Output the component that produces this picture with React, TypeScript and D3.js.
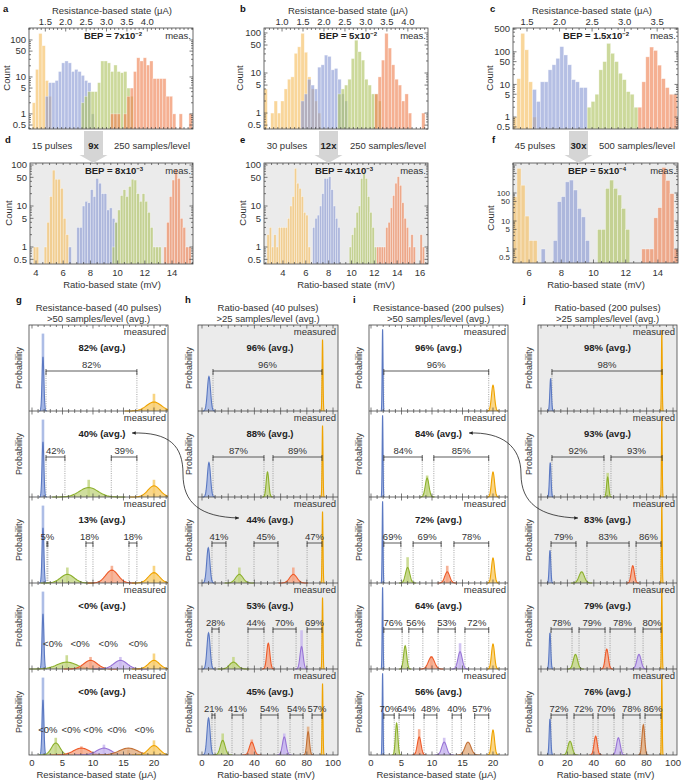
import React from 'react';
import * as d3 from 'd3';

const W = 685;
const H = 782;
const FONT = "'Liberation Sans', Arial, Helvetica, sans-serif";
const INK = '#333';

// ===== Histogram data (counts per bin): yellow, blue, green, orange =====
const aStarts = [1, 5, 16, 25];
const aYellow = [2, 16, 150, 70, 8, 3];
const aBlue = [3, 7, 7, 8, 14, 24, 27, 24, 14, 16, 14, 11, 8, 7, 1];
const aGreen = [2, 3, 4, 4, 4, 7, 27, 27, 24, 14, 21, 14, 13, 14, 5, 3];
const aOrange = [1, 1, 1, 0, 1, 3, 5, 14, 33, 27, 33, 21, 27, 9, 9, 9, 9, 3, 3, 1, 0, 1, 0, 0, 1];

const bStarts = [0, 11, 22, 33];
const bYellow = [4, 0, 1, 2, 1, 2, 4, 7, 8, 31, 45, 98, 33, 8, 4, 2, 1];
const bBlue = [2, 3, 7, 5, 4, 14, 16, 28, 26, 12, 13, 7, 3, 2];
const bGreen = [3, 4, 5, 7, 23, 66, 34, 21, 7, 5, 3, 3, 2];
const bOrange = [3, 8, 21, 98, 42, 16, 7, 5, 2, 3, 1, 0, 0, 0, 1];

const cStarts = [0, 5, 19, 32];
const cYellow = [1, 15, 368, 115, 12, 1];
const cBlue = [7, 3, 12, 12, 28, 40, 63, 144, 80, 40, 14, 12, 8, 8];
const cGreen = [2, 3, 5, 28, 50, 181, 90, 50, 22, 14, 6, 5, 2];
const cOrange = [2, 12, 70, 140, 110, 39, 15, 8, 5, 5, 1];

const dStarts = [1, 14, 30, 49];
const dYellow = [1, 1, 0, 0, 1, 4, 17, 75, 45, 45, 27, 5, 2];
const dBlue = [1, 0, 0, 3, 3, 10, 13, 12, 25, 17, 47, 36, 20, 20, 8, 9, 5, 4];
const dGreen = [1, 4, 8, 18, 25, 17, 30, 45, 43, 20, 13, 20, 13, 7, 3, 1, 1, 1];
const dOrange = [1, 4, 17, 43, 80, 47, 5, 3, 1, 1];

const eStarts = [1, 21, 37, 49];
const eYellow = [2, 3, 1, 2, 1, 3, 3, 3, 3, 5, 10, 17, 83, 36, 27, 17, 7, 6, 1];
const eBlue = [3, 5, 6, 10, 20, 47, 47, 52, 25, 10, 5, 3];
const eGreen = [1, 2, 3, 7, 10, 47, 62, 47, 17, 7, 3, 1];
const eOrange = [1, 1, 1, 1, 3, 4, 9, 18, 36, 52, 32, 12, 5, 3, 1, 2, 1, 0, 0, 2, 1];

const fStarts = [0, 7, 21, 32];
const fYellow = [74, 760, 190, 15, 2, 2];
const fBlue = [1, 0, 0, 2, 49, 74, 250, 290, 128, 28, 14, 2];
const fGreen = [5, 5, 146, 290, 146, 85, 28, 5];
const fOrange = [1, 1, 1, 13, 30, 820, 280, 95, 1];

const topTicksA = [1.5, 2.0, 2.5, 3.0, 3.5, 4.0];
const topTicksB = [1.0, 1.5, 2.0, 2.5, 3.0, 3.5, 4.0];
const topTicksC = [1.5, 2.0, 2.5, 3.0, 3.5];
const botTicksD = [4, 6, 8, 10, 12, 14];
const botTicksE = [4, 6, 8, 10, 12, 14, 16];
const botTicksF = [6, 8, 10, 12, 14];
const countTicks = [0.5, 1, 5, 10, 50, 100];
const countTicksC = [0.5, 1, 5, 10, 50, 100, 500];

const HIST_COLORS = ['#f5bd5c', '#8797d3', '#adc15d', '#ef804f'];

type HistCfg = {
  letter: string; lx: number; ly: number;
  box: [number, number, number, number]; dom: [number, number]; yDom: [number, number];
  x0: number; w: number; starts: number[]; series: number[][];
  gray: boolean; yLabels: number[]; yFont: number; xLabels: number[]; xOnTop: boolean; minor: number;
  title: string; titleX: number; bepA: string; bepB: string; bepX: number; countX: number; countY: number;
};

const HISTS: HistCfg[] = [
  { letter: 'a', lx: 3, ly: 12, box: [29, 28, 193, 129], dom: [1.10, 5.12], yDom: [0.39, 211], x0: 1.10, w: 0.08,
    starts: aStarts, series: [aYellow, aBlue, aGreen, aOrange], gray: false, yLabels: countTicks, yFont: 9.5, xLabels: topTicksA,
    xOnTop: true, minor: 0.1, title: 'Resistance-based state (μA)', titleX: 112, bepA: 'BEP = 7x10', bepB: '−2', bepX: 113, countX: 10, countY: 78 },
  { letter: 'b', lx: 240, ly: 12, box: [264, 28, 428, 129], dom: [0.57, 4.48], yDom: [0.4, 133], x0: 0.57, w: 0.08,
    starts: bStarts, series: [bYellow, bBlue, bGreen, bOrange], gray: false, yLabels: countTicks, yFont: 9.5, xLabels: topTicksB,
    xOnTop: true, minor: 0.1, title: 'Resistance-based state (μA)', titleX: 348, bepA: 'BEP = 5x10', bepB: '−2', bepX: 348, countX: 243, countY: 78 },
  { letter: 'c', lx: 490, ly: 12, box: [513, 28, 678, 129], dom: [1.285, 3.82], yDom: [0.43, 537], x0: 1.285, w: 0.06,
    starts: cStarts, series: [cYellow, cBlue, cGreen, cOrange], gray: false, yLabels: countTicksC, yFont: 9.5, xLabels: topTicksC,
    xOnTop: true, minor: 0.1, title: 'Resistance-based state (μA)', titleX: 592, bepA: 'BEP = 1.5x10', bepB: '−2', bepX: 596, countX: 493, countY: 78 },
  { letter: 'd', lx: 5, ly: 143, box: [30, 163, 193, 264], dom: [3.56, 15.54], yDom: [0.385, 112], x0: 3.6, w: 0.2,
    starts: dStarts, series: [dYellow, dBlue, dGreen, dOrange], gray: true, yLabels: countTicks, yFont: 9.5, xLabels: botTicksD,
    xOnTop: false, minor: 0.5, title: 'Ratio-based state (mV)', titleX: 112, bepA: 'BEP = 8x10', bepB: '−3', bepX: 114, countX: 12, countY: 213 },
  { letter: 'e', lx: 240, ly: 143, box: [264, 163, 428, 264], dom: [2.34, 16.7], yDom: [0.385, 112], x0: 2.4, w: 0.2,
    starts: eStarts, series: [eYellow, eBlue, eGreen, eOrange], gray: true, yLabels: countTicks, yFont: 9.5, xLabels: botTicksE,
    xOnTop: false, minor: 0.5, title: 'Ratio-based state (mV)', titleX: 346, bepA: 'BEP = 4x10', bepB: '−3', bepX: 344, countX: 246, countY: 213 },
  { letter: 'f', lx: 492, ly: 143, box: [513, 163, 678, 263], dom: [5.0, 15.25], yDom: [0.316, 1180], x0: 5.0, w: 0.25,
    starts: fStarts, series: [fYellow, fBlue, fGreen, fOrange], gray: true, yLabels: countTicks, yFont: 8, xLabels: botTicksF,
    xOnTop: false, minor: 0.5, title: 'Ratio-based state (mV)', titleX: 596, bepA: 'BEP = 5x10', bepB: '−4', bepX: 597, countX: 494, countY: 218 },
];

const CONNECTORS = [
  { cx: 93.5, mult: '9x', left: '15 pulses', lx: 52, right: '250 samples/level', rx: 152 },
  { cx: 328.5, mult: '12x', left: '30 pulses', lx: 287, right: '250 samples/level', rx: 388 },
  { cx: 578.5, mult: '30x', left: '45 pulses', lx: 535, right: '500 samples/level', rx: 637 },
];

// ===== Probability panels (g–j): [color, mean, sd, peak, raw-bar peak] =====
type Lv = [string, number, number, number, number];
type Br = [number, number, string];

const gLevels: Lv[][] = [
  [['b', 1.8, 0.15, 0.63, 0.9], ['y', 20, 1.2, 0.105, 0.2]],
  [['b', 1.8, 0.15, 0.64, 0.9], ['g', 9.3, 1.5, 0.11, 0.2], ['y', 20, 1.0, 0.13, 0.2]],
  [['b', 1.8, 0.15, 0.64, 0.9], ['g', 5.8, 1.1, 0.1, 0.18], ['o', 13.1, 1.0, 0.15, 0.2], ['y', 20, 0.9, 0.12, 0.2]],
  [['b', 1.8, 0.15, 0.64, 0.9], ['g', 5.7, 1.6, 0.08, 0.16], ['o', 9.6, 1.1, 0.1, 0.14], ['p', 14.5, 1.1, 0.1, 0.14], ['y', 20, 0.9, 0.1, 0.18]],
  [['b', 1.8, 0.15, 0.64, 0.9], ['g', 3.9, 0.7, 0.14, 0.2], ['o', 8.1, 1.3, 0.08, 0.1], ['p', 11.8, 1.2, 0.08, 0.12], ['n', 15.8, 1.5, 0.08, 0.06], ['y', 20, 0.9, 0.11, 0.17]],
];
const hLevels: Lv[][] = [
  [['b', 5.3, 1.2, 0.4, 0], ['y', 92, 0.35, 0.83, 0]],
  [['b', 5.3, 1.2, 0.4, 0], ['g', 50, 1.0, 0.29, 0], ['y', 92, 0.35, 0.83, 0]],
  [['b', 4.8, 1.2, 0.41, 0], ['g', 28.5, 2.8, 0.1, 0.18], ['o', 69.7, 2.8, 0.1, 0.18], ['y', 92, 0.35, 0.83, 0]],
  [['b', 5, 1.2, 0.42, 0], ['g', 24, 3, 0.08, 0.14], ['o', 50.6, 1.2, 0.3, 0], ['p', 76, 1.2, 0.26, 0.45], ['y', 92, 0.35, 0.83, 0]],
  [['b', 5, 1.2, 0.43, 0], ['g', 15.8, 1.8, 0.17, 0.25], ['o', 38, 1.8, 0.15, 0.18], ['p', 62.8, 1.4, 0.21, 0.25], ['n', 81, 1.0, 0.27, 0.33], ['y', 92, 0.35, 0.83, 0]],
];
const iLevels: Lv[][] = [
  [['b', 1.9, 0.07, 0.95, 0], ['y', 20, 0.25, 0.3, 0]],
  [['b', 1.9, 0.07, 0.95, 0], ['g', 9.2, 0.3, 0.22, 0.25], ['y', 20, 0.25, 0.29, 0]],
  [['b', 1.9, 0.07, 0.95, 0], ['g', 6.0, 0.35, 0.18, 0.3], ['o', 12.5, 0.4, 0.13, 0.2], ['y', 20, 0.25, 0.29, 0]],
  [['b', 1.9, 0.07, 0.95, 0], ['g', 5.6, 0.25, 0.27, 0], ['o', 9.9, 0.5, 0.14, 0.15], ['p', 14.6, 0.35, 0.2, 0.3], ['y', 20, 0.25, 0.29, 0]],
  [['b', 1.9, 0.07, 0.95, 0], ['g', 4.2, 0.2, 0.37, 0], ['o', 7.9, 0.3, 0.21, 0.3], ['p', 12, 0.4, 0.15, 0.2], ['n', 15.9, 0.5, 0.15, 0], ['y', 20, 0.25, 0.29, 0]],
];
const jLevels: Lv[][] = [
  [['b', 7.3, 0.6, 0.38, 0], ['y', 91.5, 0.3, 0.94, 0]],
  [['b', 7, 0.6, 0.4, 0], ['g', 50.5, 0.8, 0.23, 0.28], ['y', 91.5, 0.3, 0.94, 0]],
  [['b', 6.8, 0.6, 0.38, 0], ['g', 30.8, 2, 0.13, 0], ['o', 69.5, 1.2, 0.2, 0], ['y', 91.5, 0.3, 0.94, 0]],
  [['b', 6.8, 0.6, 0.42, 0], ['g', 26.1, 1.6, 0.17, 0], ['o', 49.8, 1.2, 0.23, 0], ['p', 74.2, 1.6, 0.17, 0], ['y', 91.5, 0.3, 0.94, 0]],
  [['b', 6.8, 0.6, 0.42, 0], ['g', 22, 1.6, 0.16, 0], ['o', 41.4, 1.2, 0.22, 0], ['p', 58.6, 1.4, 0.2, 0], ['n', 77.5, 1.0, 0.35, 0], ['y', 91.5, 0.3, 0.94, 0]],
];

const gBrackets: Br[][] = [
  [[2.3, 17.2, '82%']],
  [[2.3, 5.4, '42%'], [13.0, 17.2, '39%']],
  [[2.45, 2.6, '5%'], [8.85, 10.0, '18%'], [15.9, 17.2, '18%']],
  [], [],
];
const hBrackets: Br[][] = [
  [[8.4, 91.6, '96%']],
  [[8.4, 47.3, '87%'], [54.2, 91.6, '89%']],
  [[7.6, 18.3, '41%'], [39.7, 58, '45%'], [80.2, 91.6, '47%']],
  [[7.6, 13, '28%'], [35.1, 47.3, '44%'], [54.2, 71.8, '70%'], [80.2, 91.6, '69%']],
  [[7.6, 9.9, '21%'], [22.9, 31.3, '41%'], [45, 58, '54%'], [67.2, 77.1, '54%'], [84, 91.6, '57%']],
];
const iBrackets: Br[][] = [
  [[2.1, 19.3, '96%']],
  [[2.1, 8.4, '84%'], [10.3, 19.3, '85%']],
  [[2.1, 4.9, '69%'], [6.9, 11.5, '69%'], [13.6, 19.3, '78%']],
  [[2.1, 5.1, '76%'], [6.2, 8.5, '56%'], [11, 13.8, '53%'], [15.4, 19.3, '72%']],
  [[2.1, 3.8, '70%'], [4.6, 7.0, '64%'], [8.7, 10.8, '48%'], [13.3, 14.8, '40%'], [17, 19.3, '57%']],
];
const jBrackets: Br[][] = [
  [[8.3, 91.7, '98%']],
  [[8.3, 47.7, '92%'], [53, 91.7, '93%']],
  [[7.6, 26.5, '79%'], [34.8, 66.7, '83%'], [72, 90.9, '86%']],
  [[7.6, 23.5, '78%'], [28.8, 48.5, '79%'], [52.3, 71.2, '78%'], [77.3, 90.9, '80%']],
  [[7.6, 19.7, '72%'], [25, 39.4, '72%'], [43.2, 55.3, '70%'], [62.1, 75, '78%'], [78.8, 90.9, '86%']],
];

const gAvg = ['82%', '40%', '13%', '<0%', '<0%'];
const hAvg = ['96%', '88%', '44%', '53%', '45%'];
const iAvg = ['96%', '84%', '72%', '64%', '56%'];
const jAvg = ['98%', '93%', '83%', '79%', '76%'];
const gNeg: number[][] = [[], [], [], [3.4, 7.9, 12.5, 17.4], [2.6, 6.4, 10.0, 13.9, 18.4]];
const noNeg: number[][] = [[], [], [], [], []];

const resTicks = [0, 5, 10, 15, 20];
const ratioTicks = [0, 20, 40, 60, 80, 100];

const LV_STROKE: Record<string, string> = { b: '#5a78c2', g: '#8cb02c', o: '#ee5a28', p: '#9874d6', n: '#c26f34', y: '#efa300' };
const LV_FILL: Record<string, string> = { b: '#9fb1e2', g: '#c3d684', o: '#f5a585', p: '#c9b8ef', n: '#e2ad80', y: '#f7cc6b' };

type ColCfg = {
  id: string; box: [number, number]; dom: [number, number]; gray: boolean; minor: number; major: number;
  labels: number[]; t1: string; t2: string; xTitle: string; levels: Lv[][]; brackets: Br[][];
  avg: string[]; neg: number[][]; letterX: number; probX: number; avgDX: number;
};

const COLS: ColCfg[] = [
  { id: 'g', box: [29, 168], dom: [-0.49, 22.3], gray: false, minor: 1, major: 5, labels: resTicks,
    t1: 'Resistance-based (40 pulses)', t2: '>50 samples/level (avg.)', xTitle: 'Resistance-based state (μA)',
    levels: gLevels, brackets: gBrackets, avg: gAvg, neg: gNeg, letterX: 16, probX: 22, avgDX: 3.5 },
  { id: 'h', box: [198, 338], dom: [-3.05, 103.8], gray: true, minor: 5, major: 20, labels: ratioTicks,
    t1: 'Ratio-based (40 pulses)', t2: '>25 samples/level (avg.)', xTitle: 'Ratio-based state (mV)',
    levels: hLevels, brackets: hBrackets, avg: hAvg, neg: noNeg, letterX: 185, probX: 192, avgDX: 2 },
  { id: 'i', box: [369, 508], dom: [-0.33, 22.46], gray: false, minor: 1, major: 5, labels: resTicks,
    t1: 'Resistance-based (200 pulses)', t2: '>50 samples/level (avg.)', xTitle: 'Resistance-based state (μA)',
    levels: iLevels, brackets: iBrackets, avg: iAvg, neg: noNeg, letterX: 353, probX: 362, avgDX: 0 },
  { id: 'j', box: [538, 677], dom: [-2.27, 103.0], gray: true, minor: 5, major: 20, labels: ratioTicks,
    t1: 'Ratio-based (200 pulses)', t2: '>25 samples/level (avg.)', xTitle: 'Ratio-based state (mV)',
    levels: jLevels, brackets: jBrackets, avg: jAvg, neg: noNeg, letterX: 523, probX: 532, avgDX: 0 },
];

const fmtTop = d3.format('.1f');

function LogHist({ c }: { c: HistCfg }) {
  const [L, T, R, B] = c.box;
  const x = d3.scaleLinear().domain(c.dom).range([L, R]);
  const y = d3.scaleLog().domain(c.yDom).range([B, T]);
  const bw = x(c.x0 + c.w) - x(c.x0);
  const logTicks: { v: number; major: boolean }[] = [];
  for (let e = -1; e <= 3; e++) {
    for (let m = 1; m <= 9; m++) {
      const v = m * Math.pow(10, e);
      if (v >= c.yDom[0] && v <= c.yDom[1]) logTicks.push({ v, major: m === 1 || m === 5 });
    }
  }
  const minor = d3.range(Math.ceil(c.dom[0] / c.minor - 1e-9), Math.floor(c.dom[1] / c.minor + 1e-9) + 1).map(i => i * c.minor);
  const isMajor = (v: number) => c.xLabels.some(l => Math.abs(l - v) < 1e-6);
  const cid = 'cp' + c.letter;
  return (
    <g>
      {c.gray && <rect x={L} y={T} width={R - L} height={B - T} fill="#ebebeb" />}
      <clipPath id={cid}><rect x={L} y={T} width={R - L} height={B - T} /></clipPath>
      <g clipPath={`url(#${cid})`}>
        {c.series.map((s, si) =>
          s.map((n, j) =>
            n > 0 ? (
              <rect key={si + '-' + j} x={x(c.x0 + (c.starts[si] + j) * c.w)} y={y(n)} width={bw} height={B - y(n)}
                fill={HIST_COLORS[si]} fillOpacity={0.62} stroke="#ffffff" strokeOpacity={0.55} strokeWidth={0.6} />
            ) : null
          )
        )}
      </g>
      {logTicks.map((t, k) => (
        <g key={'lt' + k} stroke="#444" strokeWidth={0.7}>
          <line x1={L} x2={L + (t.major ? 3.5 : 2)} y1={y(t.v)} y2={y(t.v)} />
          <line x1={R - (t.major ? 3.5 : 2)} x2={R} y1={y(t.v)} y2={y(t.v)} />
        </g>
      ))}
      {minor.map((v, k) => (
        <g key={'xt' + k} stroke="#444" strokeWidth={0.7}>
          <line x1={x(v)} x2={x(v)} y1={T} y2={T + (isMajor(v) && c.xOnTop ? 3.5 : 2)} />
          <line x1={x(v)} x2={x(v)} y1={B - (isMajor(v) && !c.xOnTop ? 3.5 : 2)} y2={B} />
        </g>
      ))}
      <rect x={L} y={T} width={R - L} height={B - T} fill="none" stroke="#444" strokeWidth={0.8} />
      {c.yLabels.map(v => (
        <text key={'yl' + v} x={L - 3} y={y(v) + c.yFont * 0.35} textAnchor="end" fontSize={c.yFont} fill={INK}>{String(v)}</text>
      ))}
      {c.xLabels.map(v => (
        <text key={'xl' + v} x={x(v)} y={c.xOnTop ? 25 : 276} textAnchor="middle" fontSize={9.5} fill={INK}>
          {c.xOnTop ? fmtTop(v) : String(v)}
        </text>
      ))}
      <text x={c.titleX} y={c.xOnTop ? 14 : 288} textAnchor="middle" fontSize={9.5} fill={INK}>{c.title}</text>
      <text x={c.countX} y={c.countY} transform={`rotate(-90 ${c.countX} ${c.countY})`} textAnchor="middle" fontSize={9.5} fill={INK}>Count</text>
      <text x={c.bepX} y={T + 11} textAnchor="middle" fontSize={9.5} fontWeight="bold" fill="#222">
        {c.bepA}<tspan dy={-3.5} fontSize={6}>{c.bepB}</tspan>
      </text>
      <text x={R - 2} y={T + 11} textAnchor="end" fontSize={9.5} fill={INK}>meas.</text>
      <text x={c.lx} y={c.ly} fontSize={9.5} fontWeight="bold" fill="#111">{c.letter}</text>
    </g>
  );
}

function ProbColumn({ c }: { c: ColCfg }) {
  const [L, R] = c.box;
  const x = d3.scaleLinear().domain(c.dom).range([L, R]);
  const top0 = 325;
  const rowH = 86;
  const bottom = top0 + rowH * c.levels.length;
  const minor = d3.range(Math.ceil(c.dom[0] / c.minor), Math.floor(c.dom[1] / c.minor) + 1).map(i => i * c.minor);
  const cx = (L + R) / 2;
  const clip = 'pc' + c.id;
  return (
    <g>
      {c.gray && <rect x={L} y={top0} width={R - L} height={bottom - top0} fill="#ebebeb" />}
      <clipPath id={clip}><rect x={L} y={top0} width={R - L} height={bottom - top0} /></clipPath>
      <text x={c.letterX} y={303} fontSize={9.5} fontWeight="bold" fill="#111">{c.id}</text>
      <text x={cx} y={311} textAnchor="middle" fontSize={9.5} fill={INK}>{c.t1}</text>
      <text x={cx} y={322} textAnchor="middle" fontSize={9.5} fill={INK}>{c.t2}</text>
      {c.levels.map((lv, r) => {
        const T = top0 + r * rowH;
        const B = T + rowH;
        const y = d3.scaleLinear().domain([0, 1]).range([B, T]);
        const brY = T + 46;
        const area = d3.area<[number, number]>().x(d => x(d[0])).y0(B).y1(d => y(d[1]));
        const line = d3.line<[number, number]>().x(d => x(d[0])).y(d => y(d[1]));
        return (
          <g key={'row' + r}>
            {c.brackets[r].map(([a, b], k) => (
              <g key={'dl' + k} stroke="#8a8a8a" strokeWidth={0.8} strokeDasharray="1,1.3">
                <line x1={x(a)} x2={x(a)} y1={brY} y2={B} />
                <line x1={x(b)} x2={x(b)} y1={brY} y2={B} />
              </g>
            ))}
            <g clipPath={`url(#${clip})`}>
              {lv.map(([col, mu, , , bar], k) =>
                bar > 0 ? (
                  <rect key={'bar' + k} x={x(mu) - 1.3} width={2.6} y={y(bar)} height={B - y(bar)} fill={LV_FILL[col]} opacity={0.85} />
                ) : null
              )}
              {lv.map(([col, mu, sd, pk], k) => {
                const pts = d3.range(-4, 4.001, 0.2).map(t => [mu + t * sd, pk * Math.exp(-t * t / 2)] as [number, number]);
                return (
                  <g key={'gs' + k}>
                    <path d={area(pts) || ''} fill={LV_FILL[col]} fillOpacity={0.8} />
                    <path d={line(pts) || ''} fill="none" stroke={LV_STROKE[col]} strokeWidth={1.1} />
                  </g>
                );
              })}
            </g>
            {c.brackets[r].map(([a, b, lab], k) => (
              <g key={'br' + k}>
                <g stroke="#333" strokeWidth={0.8}>
                  <line x1={x(a)} x2={x(b)} y1={brY} y2={brY} />
                  <line x1={x(a)} x2={x(a)} y1={brY - 2} y2={brY + 4} />
                  <line x1={x(b)} x2={x(b)} y1={brY - 2} y2={brY + 4} />
                </g>
                <text x={(x(a) + x(b)) / 2} y={brY - 3} textAnchor="middle" fontSize={9.5} fill={INK}>{lab}</text>
              </g>
            ))}
            {c.neg[r].map((v, k) => (
              <text key={'ng' + k} x={x(v)} y={T + 64} textAnchor="middle" fontSize={9.5} fill={INK}>{'<0%'}</text>
            ))}
            {minor.map((v, k) => {
              const len = Math.abs(v % c.major) < 1e-6 ? 3.5 : 2;
              return (
                <g key={'tk' + k} stroke="#444" strokeWidth={0.7}>
                  <line x1={x(v)} x2={x(v)} y1={T} y2={T + len} />
                  <line x1={x(v)} x2={x(v)} y1={B - len} y2={B} />
                </g>
              );
            })}
            {r > 0 && <line x1={L} x2={R} y1={T} y2={T} stroke="#444" strokeWidth={0.8} />}
            <text x={R - 2} y={T + 10} textAnchor="end" fontSize={9.5} fill={INK}>measured</text>
            <text x={cx + c.avgDX} y={T + 26} textAnchor="middle" fontSize={9.5} fontWeight="bold" fill="#222">{c.avg[r] + ' (avg.)'}</text>
            <text x={c.probX} y={T + 43} transform={`rotate(-90 ${c.probX} ${T + 43})`} textAnchor="middle" fontSize={9} fill={INK}>Probability</text>
          </g>
        );
      })}
      <rect x={L} y={top0} width={R - L} height={bottom - top0} fill="none" stroke="#444" strokeWidth={0.8} />
      {c.labels.map(v => (
        <text key={'lb' + v} x={x(v)} y={766} textAnchor="middle" fontSize={9.5} fill={INK}>{String(v)}</text>
      ))}
      <text x={cx - 2} y={778} textAnchor="middle" fontSize={9.5} fill={INK}>{c.xTitle}</text>
    </g>
  );
}

export default function App() {
  return (
    <svg width={W} height={H} style={{ position: 'absolute', left: 0, top: 0, background: '#fff' }} fontFamily={FONT}>
      <defs>
        <marker id="arr" viewBox="0 0 8 8" refX="7.5" refY="4" markerWidth="5" markerHeight="5" orient="auto-start-reverse">
          <path d="M0,0.5 L8,4 L0,7.5 z" fill="#222" />
        </marker>
      </defs>
      {HISTS.map(h => <LogHist key={h.letter} c={h} />)}
      {CONNECTORS.map((k, i) => (
        <g key={'cn' + i}>
          <rect x={k.cx - 9.5} y={131} width={19} height={24} fill="#d5d5d5" />
          <polygon points={`${k.cx - 14},155 ${k.cx + 14},155 ${k.cx},163`} fill="#d5d5d5" />
          <text x={k.cx} y={149} textAnchor="middle" fontSize={9.5} fontWeight="bold" fill="#222">{k.mult}</text>
          <text x={k.lx} y={149} textAnchor="middle" fontSize={9.5} fill={INK}>{k.left}</text>
          <text x={k.rx} y={149} textAnchor="middle" fontSize={9.5} fill={INK}>{k.right}</text>
        </g>
      ))}
      {COLS.map(c => <ProbColumn key={c.id} c={c} />)}
      <path d="M132,433 C170,432 183,446 183,474 C183,503 200,517 239,518" fill="none" stroke="#222" strokeWidth={0.8}
        markerStart="url(#arr)" markerEnd="url(#arr)" />
      <path d="M469,433 C502,432 521,446 521,474 C521,503 540,517 578,518" fill="none" stroke="#222" strokeWidth={0.8}
        markerStart="url(#arr)" markerEnd="url(#arr)" />
    </svg>
  );
}
